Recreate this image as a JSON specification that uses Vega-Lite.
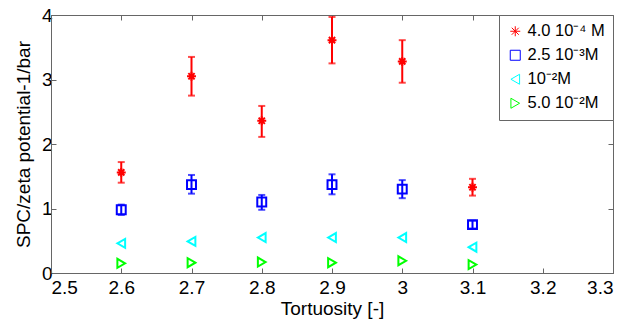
{
  "$schema": "https://vega.github.io/schema/vega-lite/v6.json",
  "width": 562,
  "height": 258,
  "autosize": "none",
  "padding": {"left": 51, "top": 15, "right": 14, "bottom": 51},
  "background": "white",
  "config": {
    "font": "Liberation Sans",
    "view": {"stroke": "#666666", "strokeWidth": 1},
    "axis": {"grid": false, "domainColor": "#666666", "tickColor": "#666666", "tickSize": -5, "labelFontSize": 19, "labelColor": "black", "titleFontSize": 19, "titleFontWeight": "normal", "titleColor": "black", "labelFont": "Liberation Sans", "titleFont": "Liberation Sans"},
    "legend": {"labelFontSize": 16.5, "labelFont": "Liberation Sans", "labelColor": "black", "strokeColor": "#666666", "fillColor": "white", "padding": 8, "rowPadding": 7, "symbolSize": 100, "symbolStrokeWidth": 1, "offset": 0}
  },
  "resolve": {"axis": {"x": "independent", "y": "independent"}},
  "data": {"values": [
    {"x": 2.6, "y": 1.56, "lo": 1.40, "hi": 1.72, "s": "4.0 10⁻⁴ M"},
    {"x": 2.7, "y": 3.05, "lo": 2.75, "hi": 3.35, "s": "4.0 10⁻⁴ M"},
    {"x": 2.8, "y": 2.36, "lo": 2.11, "hi": 2.59, "s": "4.0 10⁻⁴ M"},
    {"x": 2.9, "y": 3.61, "lo": 3.25, "hi": 3.97, "s": "4.0 10⁻⁴ M"},
    {"x": 3.0, "y": 3.28, "lo": 2.95, "hi": 3.61, "s": "4.0 10⁻⁴ M"},
    {"x": 3.1, "y": 1.33, "lo": 1.20, "hi": 1.46, "s": "4.0 10⁻⁴ M"},
    {"x": 2.6, "y": 0.98, "lo": 0.90, "hi": 1.06, "s": "2.5 10⁻³M"},
    {"x": 2.7, "y": 1.37, "lo": 1.23, "hi": 1.52, "s": "2.5 10⁻³M"},
    {"x": 2.8, "y": 1.10, "lo": 0.98, "hi": 1.21, "s": "2.5 10⁻³M"},
    {"x": 2.9, "y": 1.37, "lo": 1.22, "hi": 1.53, "s": "2.5 10⁻³M"},
    {"x": 3.0, "y": 1.30, "lo": 1.16, "hi": 1.44, "s": "2.5 10⁻³M"},
    {"x": 3.1, "y": 0.75, "lo": 0.69, "hi": 0.81, "s": "2.5 10⁻³M"},
    {"x": 2.6, "y": 0.46, "s": "10⁻²M"},
    {"x": 2.7, "y": 0.49, "s": "10⁻²M"},
    {"x": 2.8, "y": 0.55, "s": "10⁻²M"},
    {"x": 2.9, "y": 0.55, "s": "10⁻²M"},
    {"x": 3.0, "y": 0.55, "s": "10⁻²M"},
    {"x": 3.1, "y": 0.40, "s": "10⁻²M"},
    {"x": 2.6, "y": 0.15, "s": "5.0 10⁻²M"},
    {"x": 2.7, "y": 0.16, "s": "5.0 10⁻²M"},
    {"x": 2.8, "y": 0.17, "s": "5.0 10⁻²M"},
    {"x": 2.9, "y": 0.16, "s": "5.0 10⁻²M"},
    {"x": 3.0, "y": 0.19, "s": "5.0 10⁻²M"},
    {"x": 3.1, "y": 0.13, "s": "5.0 10⁻²M"}
  ]},
  "layer": [
    {
      "transform": [{"filter": "datum.s === '4.0 10⁻⁴ M'"}],
      "mark": {"type": "errorbar", "ticks": {"size": 7}, "thickness": 2, "color": "#ff0000"},
      "encoding": {
        "x": {"field": "x", "type": "quantitative", "scale": {"domain": [2.5, 3.3], "nice": false, "zero": false}, "axis": {"values": [2.5, 2.6, 2.7, 2.8, 2.9, 3.0, 3.1, 3.2, 3.3], "format": "~g", "title": "Tortuosity [-]", "titlePadding": 2, "labelPadding": 10}},
        "y": {"field": "lo", "type": "quantitative", "scale": {"domain": [0, 4], "nice": false}, "axis": {"values": [0, 1, 2, 3, 4], "format": "~g", "title": "SPC/zeta potential-1/bar", "titlePadding": 8, "labelPadding": 4}},
        "y2": {"field": "hi"}
      }
    },
    {
      "transform": [{"filter": "datum.s === '2.5 10⁻³M'"}],
      "mark": {"type": "errorbar", "ticks": {"size": 7}, "thickness": 2, "color": "#0000ff"},
      "encoding": {
        "x": {"field": "x", "type": "quantitative", "axis": null},
        "y": {"field": "lo", "type": "quantitative", "axis": null},
        "y2": {"field": "hi"}
      }
    },
    {
      "mark": {"type": "point", "filled": false, "strokeWidth": 2, "opacity": 1},
      "encoding": {
        "x": {"field": "x", "type": "quantitative", "axis": {"orient": "top", "values": [2.5, 2.6, 2.7, 2.8, 2.9, 3.0, 3.1, 3.2, 3.3], "labels": false, "title": null}},
        "y": {"field": "y", "type": "quantitative", "axis": {"orient": "right", "values": [0, 1, 2, 3, 4], "labels": false, "title": null}},
        "color": {"field": "s", "type": "nominal", "scale": {"domain": ["4.0 10⁻⁴ M", "2.5 10⁻³M", "10⁻²M", "5.0 10⁻²M"], "range": ["#ff0000", "#0000ff", "#00ffff", "#00ff00"]}, "legend": {"title": null, "orient": "top-right"}},
        "shape": {"field": "s", "type": "nominal", "scale": {"domain": ["4.0 10⁻⁴ M", "2.5 10⁻³M", "10⁻²M", "5.0 10⁻²M"], "range": ["M-1,0L1,0M0,-1L0,1M-0.7,-0.7L0.7,0.7M-0.7,0.7L0.7,-0.7", "square", "triangle-left", "triangle-right"]}, "legend": {"title": null, "orient": "top-right"}},
        "size": {"value": 80}
      }
    }
  ]
}
